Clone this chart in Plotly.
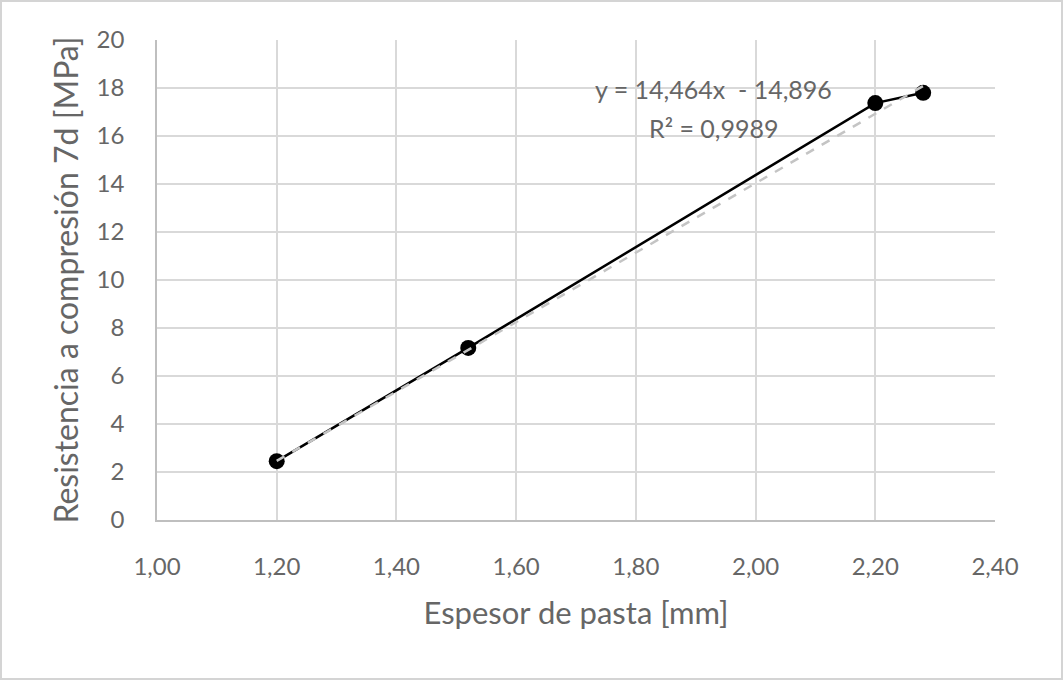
import plotly.graph_objects as go

# Data
espesor = [1.20, 1.52, 2.20, 2.28]
resistencia = [2.45, 7.17, 17.37, 17.80]
slope = 14.464
intercept = -14.896
eq_text = "y = 14,464x  - 14,896"
r2_text = "R² = 0,9989"
x_ticks = [1.0, 1.2, 1.4, 1.6, 1.8, 2.0, 2.2, 2.4]
x_tick_labels = ["1,00", "1,20", "1,40", "1,60", "1,80", "2,00", "2,20", "2,40"]
y_ticks = [0, 2, 4, 6, 8, 10, 12, 14, 16, 18, 20]

trend_x = [min(espesor), max(espesor)]
trend_y = [slope * v + intercept for v in trend_x]

font_family = "Lato, 'Open Sans', sans-serif"
grey = "#666666"

fig = go.Figure()
fig.add_trace(go.Scatter(
    x=espesor, y=resistencia, mode="lines+markers",
    line=dict(color="black", width=2.5),
    marker=dict(color="black", size=16),
    showlegend=False,
))
fig.add_trace(go.Scatter(
    x=trend_x, y=trend_y, mode="lines",
    line=dict(color="#c4c4c4", width=2.5, dash="dash"),
    showlegend=False,
))

fig.add_annotation(x=1.93, y=17.95, xref="x", yref="y", text=eq_text,
                   showarrow=False, font=dict(family=font_family, size=25, color=grey))
fig.add_annotation(x=1.93, y=16.35, xref="x", yref="y", text=r2_text,
                   showarrow=False, font=dict(family=font_family, size=25, color=grey))

fig.add_shape(type="rect", xref="paper", yref="paper", x0=-156/838, x1=1+67/838,
              y0=-159/480, y1=1+39/480, line=dict(color="#d4d4d4", width=2))

fig.update_layout(
    width=1064, height=680,
    margin=dict(l=157, r=69, t=40, b=160),
    paper_bgcolor="white", plot_bgcolor="white",
    font=dict(family=font_family, color=grey),
    xaxis=dict(
        range=[1.0, 2.4], tickvals=x_ticks, ticktext=x_tick_labels,
        showgrid=True, gridcolor="#d9d9d9", gridwidth=1.5,
        showline=True, linecolor="#bfbfbf", linewidth=1.5,
        zeroline=False, ticks="", tickfont=dict(size=24, color=grey),
        title=dict(text="Espesor de pasta [mm]", font=dict(size=31, color=grey), standoff=24),
        ticklabelstandoff=24,
    ),
    yaxis=dict(
        range=[0, 20], tickvals=y_ticks,
        showgrid=True, gridcolor="#d9d9d9", gridwidth=1.5,
        showline=True, linecolor="#bfbfbf", linewidth=1.5,
        zeroline=False, ticks="", tickfont=dict(size=24, color=grey),
        title=dict(text="Resistencia a compresión 7d [MPa]", font=dict(size=32, color=grey), standoff=8),
        ticklabelstandoff=26,
    ),
)

fig.write_html("out.html", config={"displayModeBar": False},
               post_script="document.body.style.margin='0';")
